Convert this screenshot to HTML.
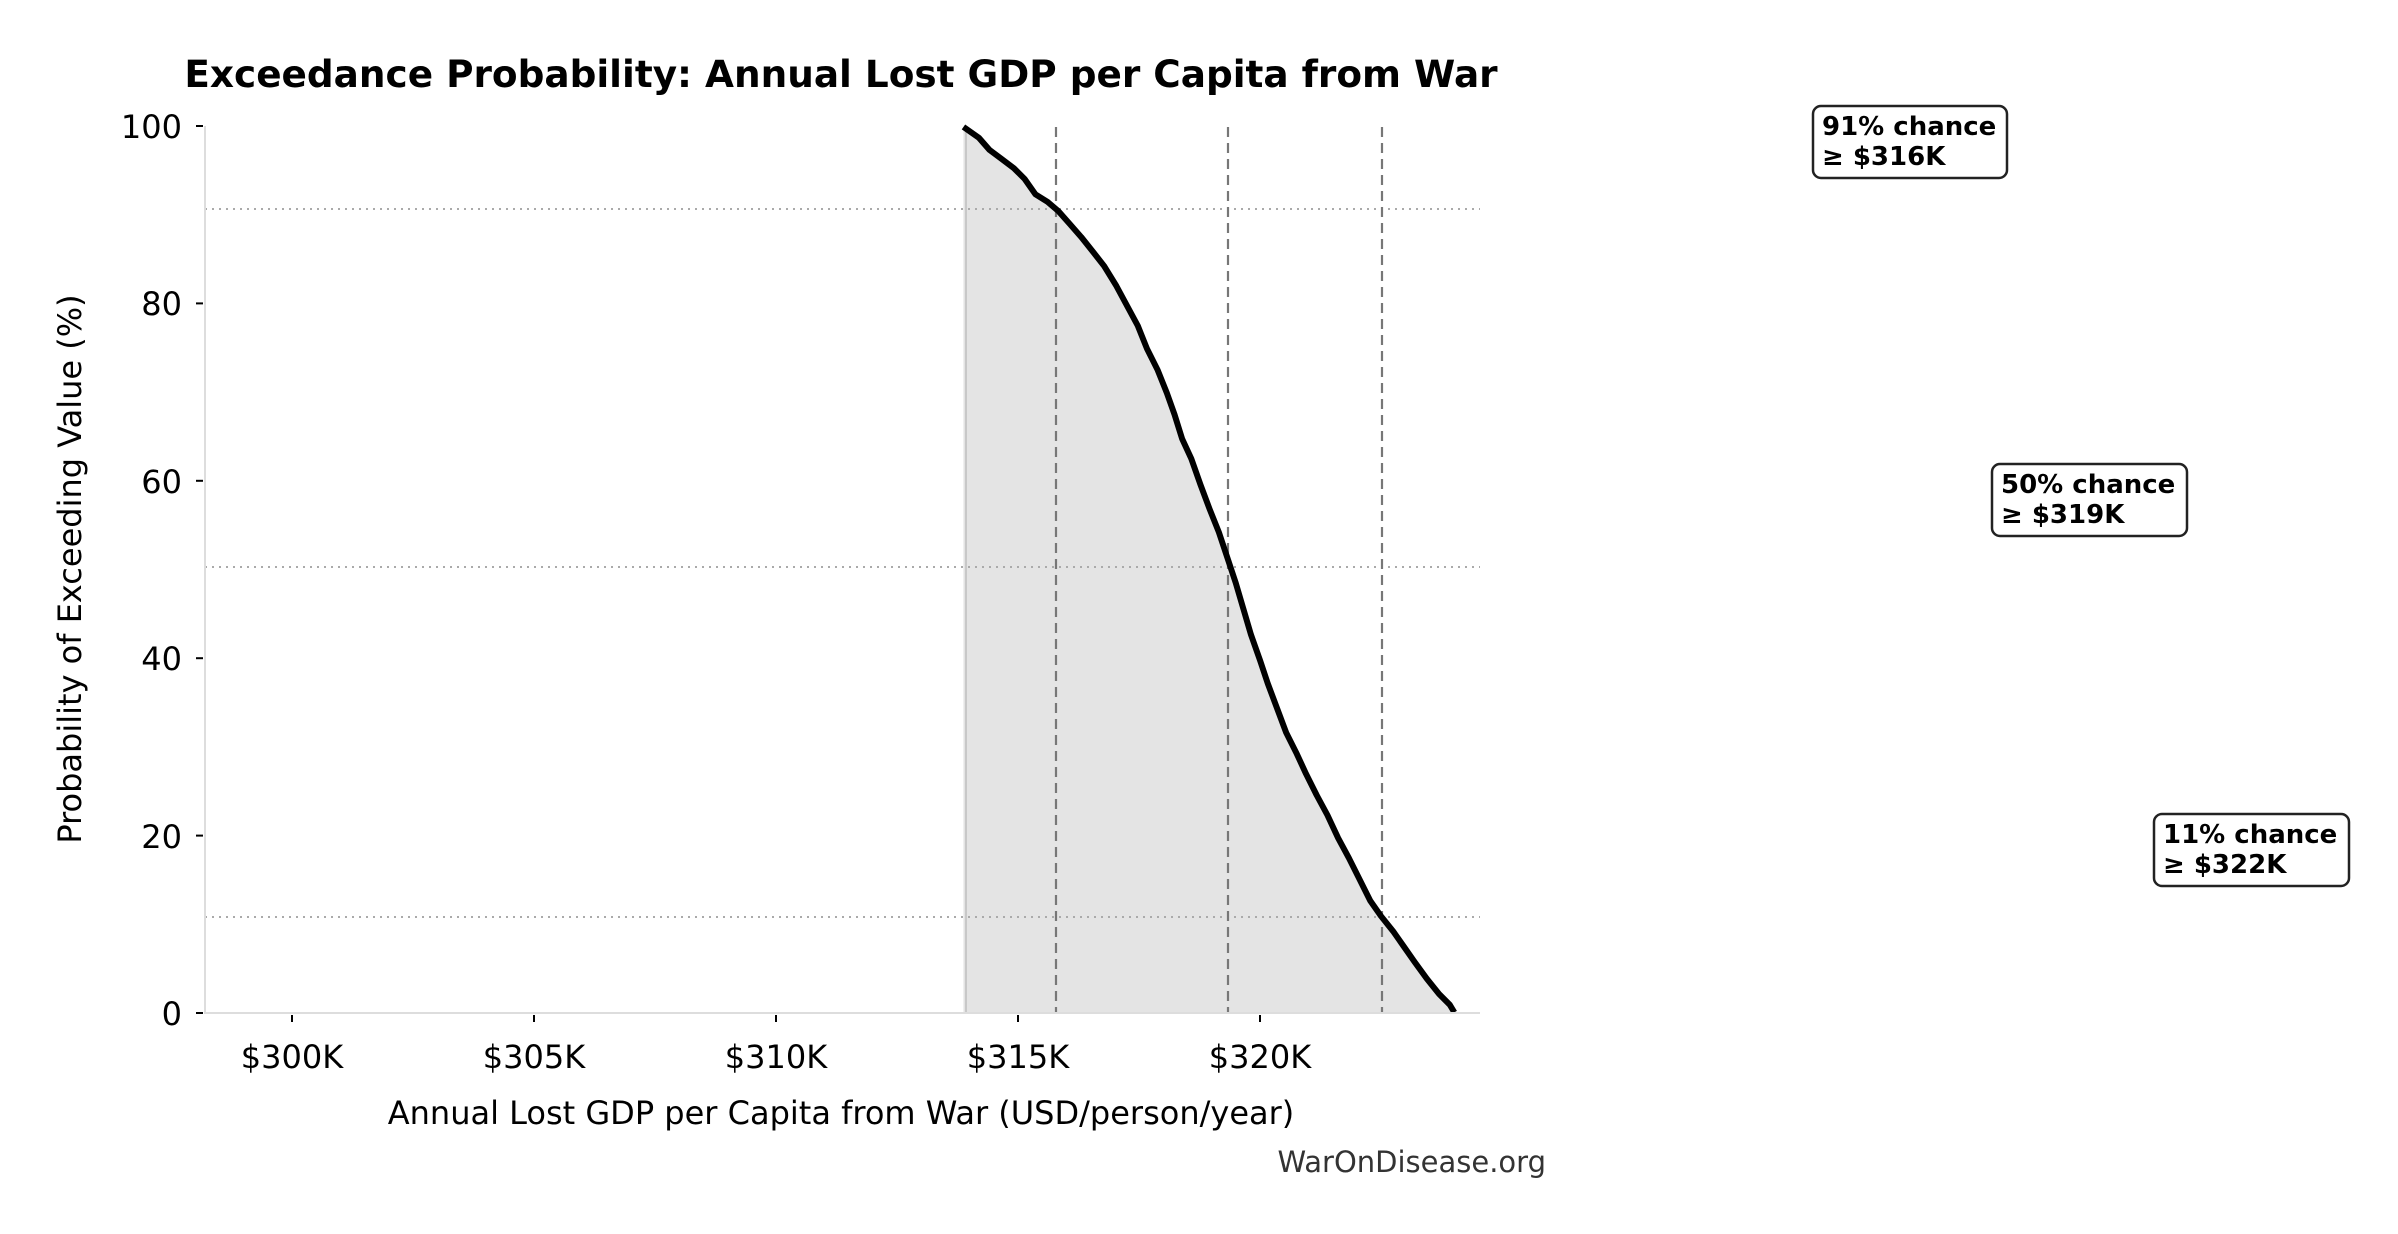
<!DOCTYPE html>
<html><head><meta charset="utf-8"><style>
html,body{margin:0;padding:0;background:#fff}
svg{display:block}
text{font-family:"DejaVu Sans","Liberation Sans",sans-serif}
</style></head><body>
<svg width="2398" height="1234" viewBox="0 0 2398 1234" xmlns="http://www.w3.org/2000/svg">
<text x="841" y="87" font-size="37.4" font-weight="bold" text-anchor="middle" fill="#000">Exceedance Probability: Annual Lost GDP per Capita from War</text>
<g transform="scale(1.5293)">
<polygon fill="#e4e4e4" points="630,663 630,83 640,90 647,98 655,104 663,110 670,117 677,127 685,132 692,138 700,147 707,155 715,165 722,174 730,187 737,200 744,213 750,228 757,242 763,257 768,271 773,287 779,300 785,317 791,333 797,348 803,366 808,381 813,398 818,415 824,432 829,447 835,463 841,479 848,493 854,506 861,520 868,533 875,548 882,561 889,575 896,589 903,599 911,609 918,619 925,629 933,640 941,650 948,657 951,662 951,663"/>
</g>
<line x1="966" y1="126" x2="966" y2="1013" stroke="#c8c8c8" stroke-width="2"/>
<g stroke="#aaa" stroke-width="2" stroke-dasharray="2,5">
<line x1="205" y1="209" x2="1480" y2="209"/>
<line x1="205" y1="567" x2="1480" y2="567"/>
<line x1="205" y1="917" x2="1480" y2="917"/>
</g>
<g stroke="#777" stroke-width="2.2" stroke-dasharray="10,6">
<line x1="1056" y1="127" x2="1056" y2="1013"/>
<line x1="1228" y1="127" x2="1228" y2="1013"/>
<line x1="1382" y1="127" x2="1382" y2="1013"/>
</g>
<g transform="scale(1.5293)">
<polyline fill="none" stroke="#000" stroke-width="3.9" stroke-linejoin="round" points="630,83 640,90 647,98 655,104 663,110 670,117 677,127 685,132 692,138 700,147 707,155 715,165 722,174 730,187 737,200 744,213 750,228 757,242 763,257 768,271 773,287 779,300 785,317 791,333 797,348 803,366 808,381 813,398 818,415 824,432 829,447 835,463 841,479 848,493 854,506 861,520 868,533 875,548 882,561 889,575 896,589 903,599 911,609 918,619 925,629 933,640 941,650 948,657 951,662"/>
</g>
<line x1="205" y1="126" x2="205" y2="1014" stroke="#ddd" stroke-width="2"/>
<line x1="204" y1="1013" x2="1480" y2="1013" stroke="#ddd" stroke-width="2"/>
<g stroke="#000" stroke-width="2">
<line x1="196" y1="126" x2="203" y2="126"/><line x1="196" y1="303.4" x2="203" y2="303.4"/><line x1="196" y1="480.8" x2="203" y2="480.8"/><line x1="196" y1="658.2" x2="203" y2="658.2"/><line x1="196" y1="835.6" x2="203" y2="835.6"/><line x1="196" y1="1013" x2="203" y2="1013"/>
<line x1="292" y1="1015" x2="292" y2="1022"/><line x1="534" y1="1015" x2="534" y2="1022"/><line x1="776" y1="1015" x2="776" y2="1022"/><line x1="1018" y1="1015" x2="1018" y2="1022"/><line x1="1260" y1="1015" x2="1260" y2="1022"/>
</g>
<g font-size="32" fill="#000" text-anchor="end">
<text x="182" y="138">100</text><text x="182" y="315">80</text><text x="182" y="493">60</text><text x="182" y="670">40</text><text x="182" y="848">20</text><text x="182" y="1025">0</text>
</g>
<g font-size="32" fill="#000" text-anchor="middle">
<text x="292" y="1068">$300K</text><text x="534" y="1068">$305K</text><text x="776" y="1068">$310K</text><text x="1018" y="1068">$315K</text><text x="1260" y="1068">$320K</text>
<text x="841" y="1124">Annual Lost GDP per Capita from War (USD/person/year)</text>
<text transform="translate(81,569) rotate(-90)">Probability of Exceeding Value (%)</text>
</g>
<text x="1546" y="1172" font-size="29" fill="#333" text-anchor="end">WarOnDisease.org</text>
<g font-size="26" font-weight="bold" fill="#000">
<rect x="1813" y="106" width="194" height="72" rx="8" fill="#fff" stroke="#222" stroke-width="2.5"/>
<text x="1822" y="135">91% chance</text><text x="1822" y="165">≥ $316K</text>
<rect x="1992" y="464" width="195" height="72" rx="8" fill="#fff" stroke="#222" stroke-width="2.5"/>
<text x="2001" y="493">50% chance</text><text x="2001" y="523">≥ $319K</text>
<rect x="2154" y="814" width="195" height="72" rx="8" fill="#fff" stroke="#222" stroke-width="2.5"/>
<text x="2163" y="843">11% chance</text><text x="2163" y="873">≥ $322K</text>
</g>
</svg>
</body></html>
